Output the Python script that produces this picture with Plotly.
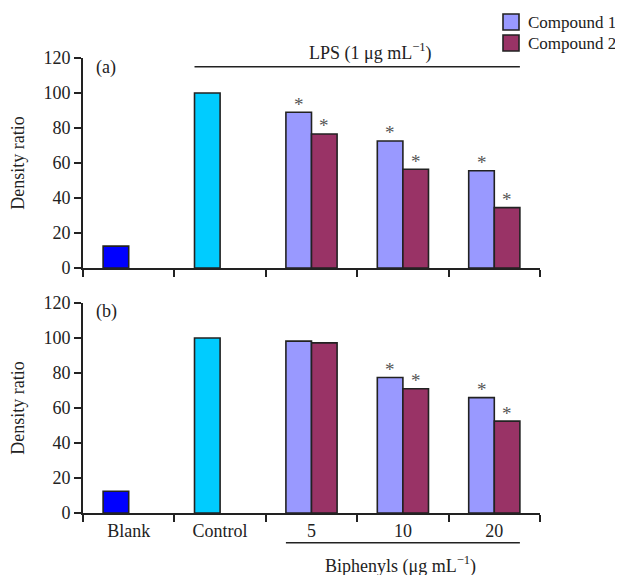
import plotly.graph_objects as go

categories = ["Blank", "Control", "5", "10", "20"]
doses = ["5", "10", "20"]

# Panel (a)
a_blank = [12.5]
a_control = [100]
a_comp1 = [89, 72.6, 55.6]
a_comp2 = [76.6, 56.4, 34.5]
a_sig1 = [True, True, True]
a_sig2 = [True, True, True]

# Panel (b)
b_blank = [12.4]
b_control = [100]
b_comp1 = [98.2, 77.4, 65.9]
b_comp2 = [97.2, 71.0, 52.5]
b_sig1 = [False, True, True]
b_sig2 = [False, True, True]

legend_names = ["Compound 1", "Compound 2"]

FONT = "Liberation Serif, Times New Roman, serif"
TXT = "#222222"
C_BLANK = "#0000FF"
C_CTRL = "#00CCFF"
C_C1 = "#9999FF"
C_C2 = "#993366"
OUT = dict(color="#222222", width=1.6)
FS = 18

# page body has an 8px margin: size figure to fit the 623x575 window
OX, OY = 8, 8
W, H = 623 - OX, 575 - OY

def px(p):
    return (p - OX) / W

def py(p):
    return 1 - (p - OY) / H

xdom = [px(83), px(540)]
ydom_a = [py(268), py(58)]
ydom_b = [py(513), py(303)]

fig = go.Figure()

def add_panel(blank, control, c1, c2, xa, ya):
    fig.add_trace(go.Bar(x=["Blank"], y=blank, marker=dict(color=C_BLANK, line=OUT),
                         offsetgroup="1", showlegend=False, xaxis=xa, yaxis=ya))
    fig.add_trace(go.Bar(x=["Control"], y=control, marker=dict(color=C_CTRL, line=OUT),
                         offsetgroup="1", showlegend=False, xaxis=xa, yaxis=ya))
    fig.add_trace(go.Bar(x=doses, y=c1, name=legend_names[0], marker=dict(color=C_C1, line=OUT),
                         offsetgroup="1", showlegend=False, xaxis=xa, yaxis=ya))
    fig.add_trace(go.Bar(x=doses, y=c2, name=legend_names[1], marker=dict(color=C_C2, line=OUT),
                         offsetgroup="2", showlegend=False, xaxis=xa, yaxis=ya))

add_panel(a_blank, a_control, a_comp1, a_comp2, "x", "y")
add_panel(b_blank, b_control, b_comp1, b_comp2, "x2", "y2")

BARGAP = 0.44
cat_px = (540 - 83) / len(categories)
half_bar = cat_px * (1 - BARGAP) / 4

annotations = []

def stars(vals, sigs, shift, xr, yr):
    for d, v, s in zip(doses, vals, sigs):
        if s:
            annotations.append(dict(x=categories.index(d), y=v, xref=xr, yref=yr, text="*",
                                    showarrow=False, xshift=shift, yshift=8, yanchor="middle",
                                    font=dict(family=FONT, size=19, color="#555555")))

stars(a_comp1, a_sig1, -half_bar, "x", "y")
stars(a_comp2, a_sig2, half_bar, "x", "y")
stars(b_comp1, b_sig1, -half_bar, "x2", "y2")
stars(b_comp2, b_sig2, half_bar, "x2", "y2")

annotations += [
    dict(x=0.024, y=0.955, xref="x domain", yref="y domain", text="(a)", showarrow=False,
         xanchor="left", yanchor="middle", font=dict(family=FONT, size=FS, color=TXT)),
    dict(x=0.024, y=0.96, xref="x2 domain", yref="y2 domain", text="(b)", showarrow=False,
         xanchor="left", yanchor="middle", font=dict(family=FONT, size=FS, color=TXT)),
    dict(x=px(370), y=py(52), xref="paper", yref="paper",
         text="LPS (1 μg mL<sup>−1</sup>)", showarrow=False, xanchor="center", yanchor="middle",
         font=dict(family=FONT, size=FS, color=TXT)),
    dict(x=px(400), y=py(565), xref="paper", yref="paper",
         text="Biphenyls (μg mL<sup>−1</sup>)", showarrow=False, xanchor="center", yanchor="middle",
         font=dict(family=FONT, size=FS, color=TXT)),
]

shapes = [
    dict(type="line", xref="x", yref="paper", x0=0.72, x1=4.28,
         y0=py(66.7), y1=py(66.7), line=dict(color=TXT, width=1.5)),
    dict(type="line", xref="x2", yref="paper", x0=1.72, x1=4.28,
         y0=py(542.7), y1=py(542.7), line=dict(color=TXT, width=1.5)),
]

# custom legend (larger swatches as in the reference)
for i, (nm, col) in enumerate(zip(legend_names, [C_C1, C_C2])):
    top = 14 + i * 21
    shapes.append(dict(type="rect", xref="paper", yref="paper",
                       x0=px(503), x1=px(519), y0=py(top), y1=py(top + 16),
                       fillcolor=col, line=dict(color=TXT, width=1.6)))
    annotations.append(dict(x=px(526), y=py(top + 8), xref="paper", yref="paper",
                            text=nm, showarrow=False, xanchor="left", yanchor="middle",
                            font=dict(family=FONT, size=17, color=TXT)))

xcommon = dict(type="category", categoryarray=categories, categoryorder="array",
               domain=xdom, showline=True, linecolor=TXT, linewidth=2,
               ticks="outside", tickson="boundaries", ticklen=7, tickwidth=2, tickcolor=TXT,
               showgrid=False, zeroline=False, automargin=False,
               range=[-0.5, 4.5], tickfont=dict(family=FONT, size=FS, color=TXT))
ycommon = dict(range=[0, 120], tickvals=[0, 20, 40, 60, 80, 100, 120], showline=True,
               linecolor=TXT, linewidth=2, ticks="outside", ticklen=7, tickwidth=2,
               tickcolor=TXT, showgrid=False, zeroline=False, automargin=False,
               tickfont=dict(family=FONT, size=FS, color=TXT),
               title=dict(text="Density ratio", font=dict(family=FONT, size=FS, color=TXT),
                          standoff=14))

fig.update_layout(
    width=W, height=H,
    margin=dict(l=0, r=0, t=0, b=0),
    paper_bgcolor="white", plot_bgcolor="white",
    barmode="group", bargap=BARGAP, bargroupgap=0,
    font=dict(family=FONT, size=FS, color=TXT),
    showlegend=False,
    xaxis=dict(**xcommon, anchor="y", showticklabels=False),
    yaxis=dict(**ycommon, domain=ydom_a, anchor="x"),
    xaxis2=dict(**xcommon, anchor="y2"),
    yaxis2=dict(**ycommon, domain=ydom_b, anchor="x2"),
    annotations=annotations,
    shapes=shapes,
)

fig.write_html("out.html")
